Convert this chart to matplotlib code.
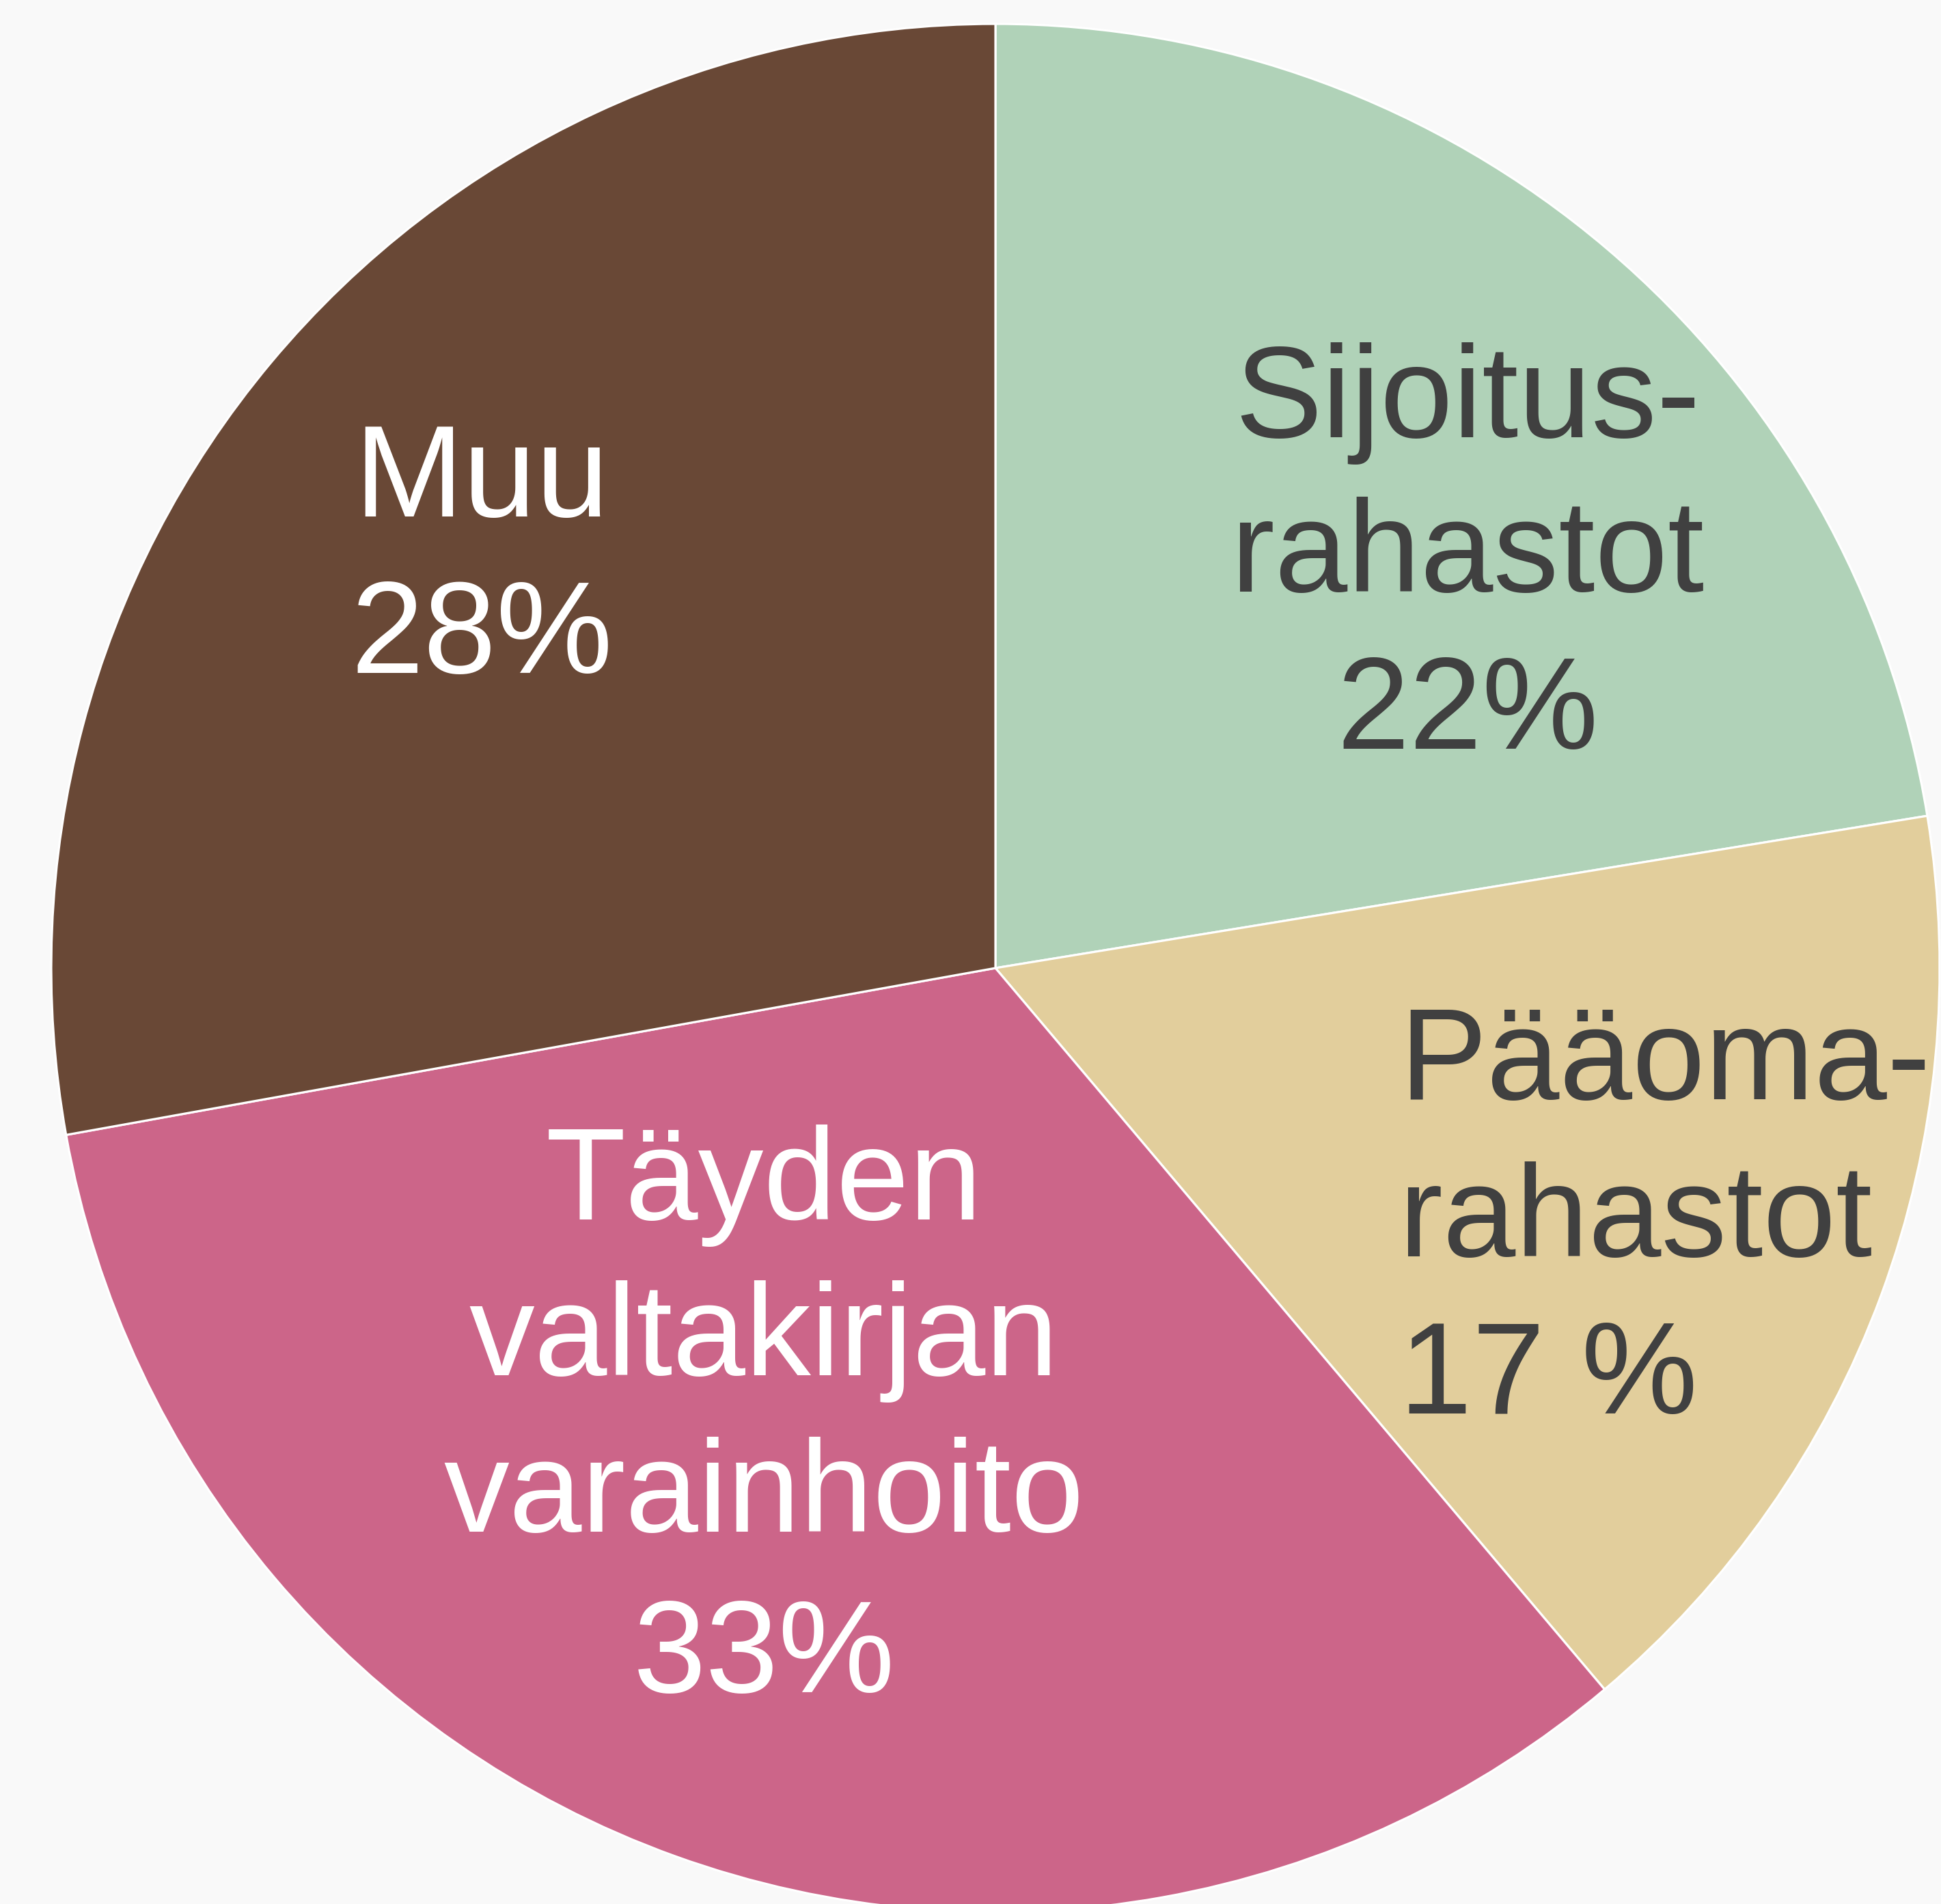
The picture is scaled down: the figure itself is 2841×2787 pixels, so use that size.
import matplotlib
matplotlib.use("Agg")
import matplotlib.pyplot as plt

# Data
categories = ["Sijoitusrahastot", "Pääomarahastot", "Täyden valtakirjan varainhoito", "Muu"]
values = [22.4, 16.4, 33.3, 27.8]
colors = ["#b0d2b8", "#e2ce9c", "#cc6589", "#694836"]
label_lines = [
    ["Sijoitus-", "rahastot", "22%"],
    ["Pääoma-", "rahastot", "17 %"],
    ["Täyden", "valtakirjan", "varainhoito", "33%"],
    ["Muu", "28%"],
]
text_colors = ["#404040", "#404040", "#ffffff", "#ffffff"]

W, H = 2841, 2787
DPI = 100
bg = "#f9f9f9"

fig = plt.figure(figsize=(W / DPI, H / DPI), dpi=DPI, facecolor=bg)

cx, cy, r = 1457, 1417, 1382
ax = fig.add_axes([(cx - r) / W, (H - cy - r) / H, 2 * r / W, 2 * r / H])
ax.set_facecolor(bg)
ax.pie(values, colors=colors, startangle=90, counterclock=False, radius=1,
       wedgeprops=dict(edgecolor="white", linewidth=2.3))
ax.set_xlim(-1, 1)
ax.set_ylim(-1, 1)
ax.axis("off")

# label placement (pixel anchors, baselines per line)
anchors = [
    dict(x=2148, ys=[640, 866, 1096], ha="center"),
    dict(x=2048, ys=[1609, 1839, 2069], ha="left"),
    dict(x=1118, ys=[1785, 2013, 2242, 2477], ha="center"),
    dict(x=705, ys=[756, 985], ha="center"),
]
fs = 138
for lines, a, tc in zip(label_lines, anchors, text_colors):
    for line, y in zip(lines, a["ys"]):
        fig.text(a["x"] / W, 1 - y / H, line, ha=a["ha"], va="baseline",
                 fontsize=fs, color=tc, family=["Liberation Sans", "DejaVu Sans"])

fig.savefig("out.png", dpi=DPI, facecolor=bg)
